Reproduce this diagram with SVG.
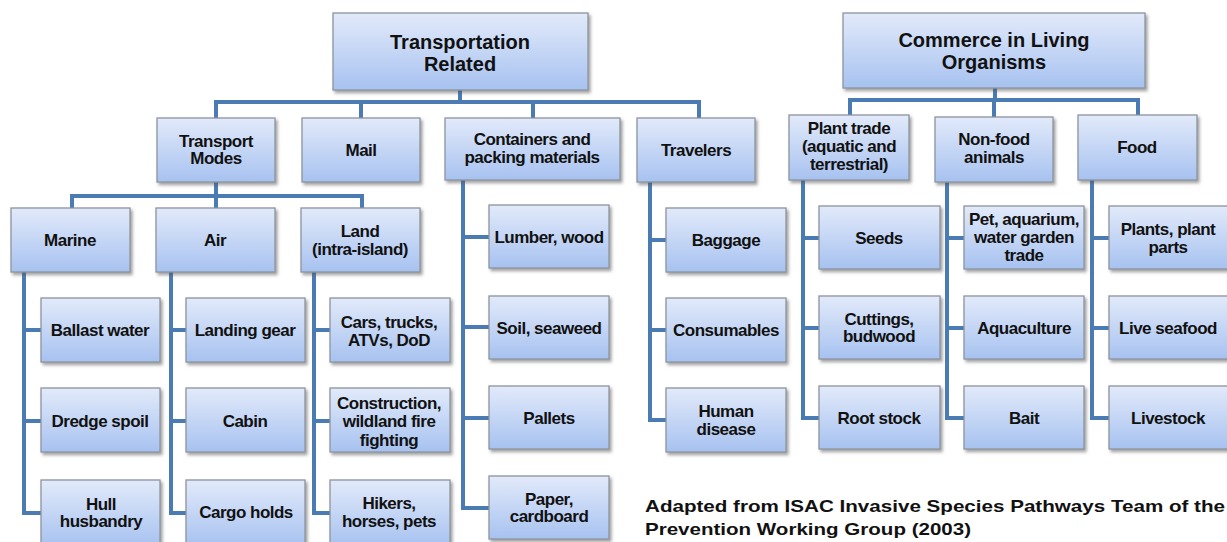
<svg xmlns="http://www.w3.org/2000/svg" width="1227" height="542" viewBox="0 0 1227 542">
<defs>
<linearGradient id="bg" x1="0" y1="0" x2="0" y2="1">
<stop offset="0" stop-color="#e2eafa"/>
<stop offset="1" stop-color="#a7c2f0"/>
</linearGradient>
<filter id="sh" x="-10%" y="-10%" width="125%" height="130%">
<feDropShadow dx="2" dy="2.5" stdDeviation="1.5" flood-color="#555" flood-opacity="0.55"/>
</filter>
</defs>
<style>
.b{fill:url(#bg);stroke:#8d949e;stroke-width:1.3;filter:url(#sh)}
.t{font-family:"Liberation Sans",Arial,sans-serif;font-weight:bold;font-size:17px;fill:#111;text-anchor:middle;letter-spacing:-0.5px}
.h{font-size:20px;letter-spacing:0}
.c{fill:none;stroke:#4a7bb3;stroke-width:4}
.cap{font-family:"Liberation Sans",Arial,sans-serif;font-weight:bold;font-size:17px;fill:#111}
</style>
<rect width="1227" height="542" fill="#fff"/>
<g id="connectors" class="c">
<path d="M460 90V102M216 118V102H699V118M361 102V118M533 102V118"/>
<path d="M216 182V196M72 208V196H362V208M216 196V208"/>
<path d="M24 272V513H41M24 330H41M24 421H41"/>
<path d="M171 272V513H186M171 330H186M171 421H186"/>
<path d="M314 272V513H330M314 330H330M314 421H330"/>
<path d="M463 180V508H489M463 237H489M463 327H489M463 418H489"/>
<path d="M650 182V420H666M650 240H666M650 330H666"/>
<path d="M995 88V100M850 115V100H1138V115M994 100V117"/>
<path d="M803 180V418H819M803 238H819M803 328H819"/>
<path d="M947 182V418H964M947 238H964M947 328H964"/>
<path d="M1092 180V418H1109M1092 238H1109M1092 328H1109"/>
</g>
<g id="transportation"><rect class="b" x="333" y="13" width="255" height="77"/><text class="t h" x="460" y="49">Transportation</text><text class="t h" x="460" y="71">Related</text></g>
<g id="commerce"><rect class="b" x="843" y="13" width="302" height="75"/><text class="t h" x="994" y="47">Commerce in Living</text><text class="t h" x="994" y="69">Organisms</text></g>
<g id="transport-modes"><rect class="b" x="157" y="118" width="118" height="64"/><text class="t" x="216" y="147">Transport</text><text class="t" x="216" y="164">Modes</text></g>
<g id="mail"><rect class="b" x="302" y="118" width="118" height="64"/><text class="t" x="361" y="156">Mail</text></g>
<g id="containers"><rect class="b" x="445" y="118" width="175" height="62"/><text class="t" x="532" y="145">Containers and</text><text class="t" x="532" y="163">packing materials</text></g>
<g id="travelers"><rect class="b" x="637" y="118" width="118" height="64"/><text class="t" x="696" y="156">Travelers</text></g>
<g id="plant-trade"><rect class="b" x="789" y="115" width="120" height="65"/><text class="t" x="849" y="134">Plant trade</text><text class="t" x="849" y="152">(aquatic and</text><text class="t" x="849" y="170">terrestrial)</text></g>
<g id="non-food"><rect class="b" x="935" y="117" width="118" height="65"/><text class="t" x="994" y="145">Non-food</text><text class="t" x="994" y="163">animals</text></g>
<g id="food"><rect class="b" x="1078" y="115" width="119" height="65"/><text class="t" x="1137" y="153">Food</text></g>
<g id="marine"><rect class="b" x="11" y="208" width="119" height="64"/><text class="t" x="70" y="246">Marine</text></g>
<g id="air"><rect class="b" x="156" y="208" width="119" height="64"/><text class="t" x="215" y="246">Air</text></g>
<g id="land"><rect class="b" x="301" y="208" width="119" height="64"/><text class="t" x="360" y="237">Land</text><text class="t" x="360" y="255">(intra-island)</text></g>
<g id="ballast"><rect class="b" x="41" y="298" width="119" height="64"/><text class="t" x="100" y="336">Ballast water</text></g>
<g id="dredge"><rect class="b" x="41" y="388" width="119" height="64"/><text class="t" x="100" y="427">Dredge spoil</text></g>
<g id="hull"><rect class="b" x="41" y="480" width="119" height="66"/><text class="t" x="101" y="510">Hull</text><text class="t" x="101" y="527">husbandry</text></g>
<g id="landing-gear"><rect class="b" x="186" y="298" width="119" height="64"/><text class="t" x="245" y="336">Landing gear</text></g>
<g id="cabin"><rect class="b" x="186" y="388" width="119" height="64"/><text class="t" x="245" y="427">Cabin</text></g>
<g id="cargo"><rect class="b" x="186" y="480" width="119" height="66"/><text class="t" x="246" y="518">Cargo holds</text></g>
<g id="cars"><rect class="b" x="330" y="298" width="120" height="64"/><text class="t" x="389" y="328">Cars, trucks,</text><text class="t" x="389" y="346">ATVs, DoD</text></g>
<g id="construction"><rect class="b" x="330" y="388" width="120" height="64"/><text class="t" x="389" y="409">Construction,</text><text class="t" x="389" y="427">wildland fire</text><text class="t" x="389" y="446">fighting</text></g>
<g id="hikers"><rect class="b" x="330" y="480" width="120" height="66"/><text class="t" x="389" y="509">Hikers,</text><text class="t" x="389" y="527">horses, pets</text></g>
<g id="lumber"><rect class="b" x="489" y="205" width="120" height="63"/><text class="t" x="549" y="243">Lumber, wood</text></g>
<g id="soil"><rect class="b" x="489" y="296" width="120" height="63"/><text class="t" x="549" y="334">Soil, seaweed</text></g>
<g id="pallets"><rect class="b" x="489" y="386" width="120" height="63"/><text class="t" x="549" y="424">Pallets</text></g>
<g id="paper"><rect class="b" x="489" y="476" width="120" height="63"/><text class="t" x="549" y="505">Paper,</text><text class="t" x="549" y="522">cardboard</text></g>
<g id="baggage"><rect class="b" x="666" y="208" width="120" height="64"/><text class="t" x="726" y="246">Baggage</text></g>
<g id="consumables"><rect class="b" x="666" y="298" width="120" height="64"/><text class="t" x="726" y="336">Consumables</text></g>
<g id="human-disease"><rect class="b" x="666" y="388" width="120" height="64"/><text class="t" x="726" y="417">Human</text><text class="t" x="726" y="435">disease</text></g>
<g id="seeds"><rect class="b" x="819" y="206" width="121" height="63"/><text class="t" x="879" y="244">Seeds</text></g>
<g id="cuttings"><rect class="b" x="819" y="296" width="121" height="63"/><text class="t" x="879" y="325">Cuttings,</text><text class="t" x="879" y="342">budwood</text></g>
<g id="root-stock"><rect class="b" x="819" y="386" width="121" height="63"/><text class="t" x="879" y="424">Root stock</text></g>
<g id="pet"><rect class="b" x="964" y="206" width="120" height="63"/><text class="t" x="1024" y="225">Pet, aquarium,</text><text class="t" x="1024" y="243">water garden</text><text class="t" x="1024" y="261">trade</text></g>
<g id="aquaculture"><rect class="b" x="964" y="296" width="120" height="63"/><text class="t" x="1024" y="334">Aquaculture</text></g>
<g id="bait"><rect class="b" x="964" y="386" width="120" height="63"/><text class="t" x="1024" y="424">Bait</text></g>
<g id="plants"><rect class="b" x="1109" y="206" width="122" height="63"/><text class="t" x="1168" y="235">Plants, plant</text><text class="t" x="1168" y="253">parts</text></g>
<g id="live-seafood"><rect class="b" x="1109" y="296" width="122" height="63"/><text class="t" x="1168" y="334">Live seafood</text></g>
<g id="livestock"><rect class="b" x="1109" y="386" width="122" height="63"/><text class="t" x="1168" y="424">Livestock</text></g>
<g id="caption">
<text class="cap" x="645" y="512" textLength="580" lengthAdjust="spacingAndGlyphs">Adapted from ISAC Invasive Species Pathways Team of the</text>
<text class="cap" x="645" y="535" textLength="326" lengthAdjust="spacingAndGlyphs">Prevention Working Group (2003)</text>
</g>
</svg>
